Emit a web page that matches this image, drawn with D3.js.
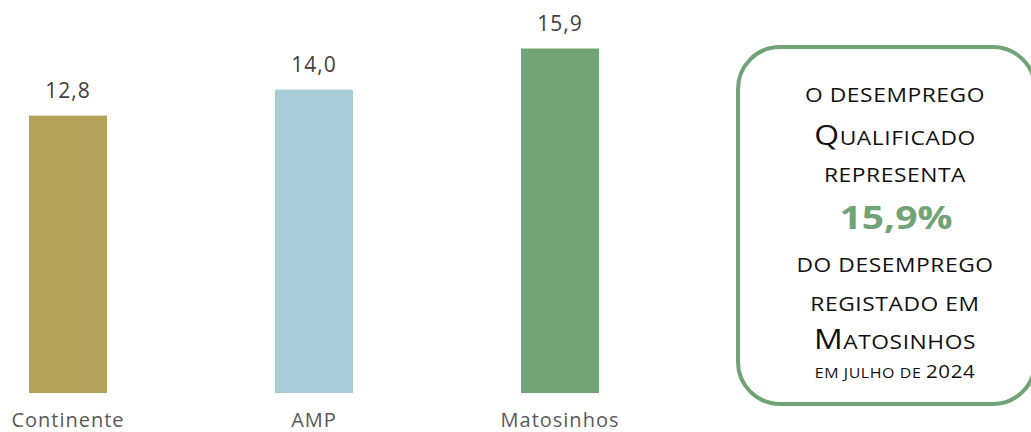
<!DOCTYPE html>
<html><head><meta charset="utf-8">
<script src="https://cdn.jsdelivr.net/npm/d3@7"></script>
<style>html,body{margin:0;padding:0;background:#fff;overflow:hidden}</style>
</head><body>
<svg id="c" width="1031" height="432"></svg>
<script>
const categories = ["Continente", "AMP", "Matosinhos"];
const values = [12.8, 14.0, 15.9];
const colors = ["#b2a25a", "#a9cdd6", "#70a476"];
const valueLabels = ["12,8", "14,0", "15,9"];

const svg = d3.select("#c");
const x = d3.scaleBand().domain(categories).range([-55, 683]).paddingInner(0.683).paddingOuter(0.3415);
const y = d3.scaleLinear().domain([0, 18]).range([393, 3]);

const g = svg.append("g");
g.selectAll("rect.bar").data(categories).join("rect")
  .attr("class", "bar")
  .attr("x", d => x(d))
  .attr("width", x.bandwidth())
  .attr("y", (d, i) => y(values[i]))
  .attr("height", (d, i) => y(0) - y(values[i]))
  .attr("fill", (d, i) => colors[i]);

g.selectAll("text.val").data(categories).join("text")
  .attr("class", "val")
  .attr("x", d => x(d) + x.bandwidth() / 2)
  .attr("y", (d, i) => y(values[i]) - 18)
  .attr("text-anchor", "middle")
  .attr("font-family", "Open Sans, sans-serif")
  .attr("font-size", 21)
  .attr("letter-spacing", 1)
  .attr("fill", "#404040")
  .text((d, i) => valueLabels[i]);

const xAxis = d3.axisBottom(x).tickSize(0).tickPadding(0);
const ax = svg.append("g").attr("transform", "translate(0,408)").call(xAxis);
ax.select(".domain").remove();
ax.selectAll("text")
  .attr("dy", 0).attr("y", 19)
  .attr("font-family", "Open Sans, sans-serif")
  .attr("font-size", 20)
  .attr("letter-spacing", 1)
  .attr("fill", "#595959");

// callout box
svg.append("rect")
  .attr("x", 738).attr("y", 47).attr("width", 297).attr("height", 357)
  .attr("rx", 42).attr("ry", 42)
  .attr("fill", "#fff").attr("stroke", "#70a476").attr("stroke-width", 4);

const cx = 895;
const big = 28, small = 20;
const lines = [
  {y: 102, parts: [["O DESEMPREGO", small]]},
  {y: 145, parts: [["Q", big], ["UALIFICADO", small]]},
  {y: 182, parts: [["REPRESENTA", small]]},
  {y: 272, parts: [["DO DESEMPREGO", small]]},
  {y: 311, parts: [["REGISTADO EM", small]]},
  {y: 349, parts: [["M", big], ["ATOSINHOS", small]]},
  {y: 378, parts: [["EM JULHO DE ", 14], ["2024", 18]]}
];
lines.forEach(l => {
  const t = svg.append("text")
    .attr("transform", `translate(${cx},${l.y}) scale(1.14,1)`)
    .attr("text-anchor", "middle")
    .attr("font-family", "Open Sans, sans-serif")
    .attr("fill", "#111");
  l.parts.forEach(p => t.append("tspan").attr("font-size", p[1]).attr("letter-spacing", 0.5).text(p[0]));
});
svg.append("text")
  .attr("transform", "translate(896,229) scale(1.18,1)")
  .attr("text-anchor", "middle")
  .attr("font-family", "Open Sans, sans-serif")
  .attr("font-weight", "bold")
  .attr("font-size", 33)
  .attr("fill", "#70a476")
  .text("15,9%");
</script>
</body></html>
